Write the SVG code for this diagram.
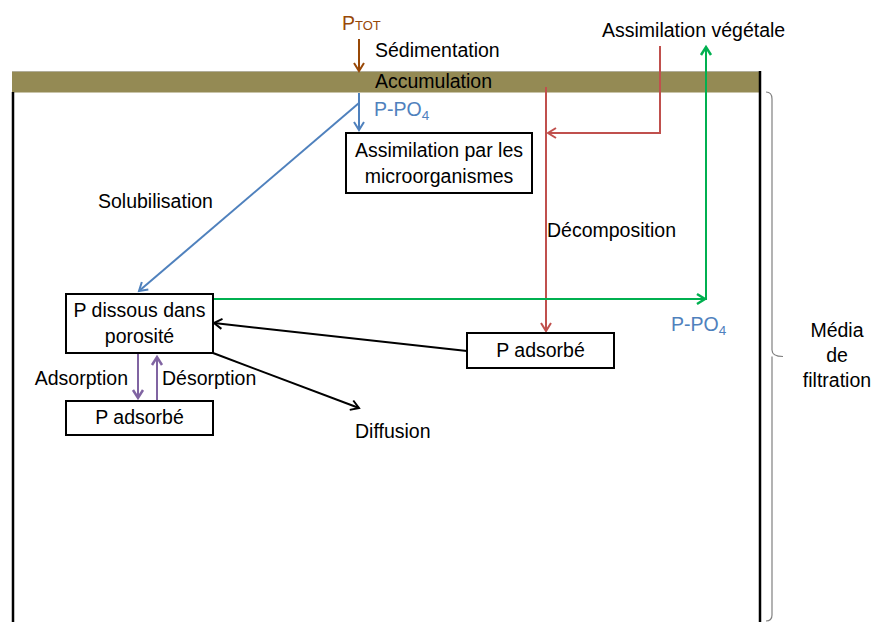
<svg xmlns="http://www.w3.org/2000/svg" width="877" height="622" viewBox="0 0 877 622">
<defs>
<style>
text{font-family:"Liberation Sans",Arial,sans-serif;font-size:19.5px;fill:#000}
.c{text-anchor:middle}
.blue{fill:#4F81BD}
.box{fill:#fff;stroke:#000;stroke-width:2}
.ln{fill:none;stroke-width:2}
</style>
<marker id="ab" markerUnits="userSpaceOnUse" markerWidth="14" markerHeight="14" refX="11" refY="7" orient="auto"><path d="M3,2 L11,7 L3,12" fill="none" stroke="#000" stroke-width="2"/></marker>
<marker id="ablue" markerUnits="userSpaceOnUse" markerWidth="14" markerHeight="14" refX="11" refY="7" orient="auto"><path d="M3,2 L11,7 L3,12" fill="none" stroke="#4F81BD" stroke-width="2"/></marker>
<marker id="ared" markerUnits="userSpaceOnUse" markerWidth="14" markerHeight="14" refX="11" refY="7" orient="auto"><path d="M3,2 L11,7 L3,12" fill="none" stroke="#C0504D" stroke-width="2"/></marker>
<marker id="agreen" markerUnits="userSpaceOnUse" markerWidth="14" markerHeight="14" refX="11" refY="7" orient="auto"><path d="M3,2 L11,7 L3,12" fill="none" stroke="#00B050" stroke-width="2.5"/></marker>
<marker id="apurple" markerUnits="userSpaceOnUse" markerWidth="14" markerHeight="14" refX="11" refY="7" orient="auto"><path d="M3,2 L11,7 L3,12" fill="none" stroke="#8064A2" stroke-width="2.5"/></marker>
<marker id="abrown" markerUnits="userSpaceOnUse" markerWidth="14" markerHeight="14" refX="11" refY="7" orient="auto"><path d="M3,2 L11,7 L3,12" fill="none" stroke="#984807" stroke-width="2"/></marker>
</defs>

<g id="media">
<line x1="12" y1="71.5" x2="760" y2="71.5" stroke="#b0ad9a" stroke-width="1"/>
<rect x="12" y="72" width="748" height="20.5" fill="#948A54"/>
<line x1="13" y1="92" x2="13" y2="622" stroke="#000" stroke-width="2.5"/>
<line x1="760" y1="71" x2="760" y2="622" stroke="#000" stroke-width="2.5"/>
<path d="M766,92 Q772,92 772,99 V350 Q772,356.5 783,356.5 M772,356.5 Q772,363 772,370 V615 Q772,621 766,621" fill="none" stroke="#808080" stroke-width="1.2"/>
<text class="c" x="837" y="337">Média</text>
<text class="c" x="837" y="362">de</text>
<text class="c" x="837" y="387">filtration</text>
</g>

<g id="labels">
<text x="342" y="30" style="fill:#984807">P<tspan style="font-size:13px">TOT</tspan></text>
<text x="375" y="57">Sédimentation</text>
<text x="375" y="88">Accumulation</text>
<text x="374" y="116" class="blue">P-PO<tspan dy="4" style="font-size:13.5px">4</tspan></text>
<text x="602" y="37">Assimilation végétale</text>
<text x="98" y="208">Solubilisation</text>
<text x="547" y="237">Décomposition</text>
<text x="671" y="331" class="blue">P-PO<tspan dy="4" style="font-size:13.5px">4</tspan></text>
<text x="128" y="385" text-anchor="end">Adsorption</text>
<text x="162" y="385">Désorption</text>
<text x="355" y="438">Diffusion</text>
</g>

<g id="connectors">
<line class="ln" x1="359" y1="39" x2="359" y2="71" stroke="#984807" marker-end="url(#abrown)"/>
<line class="ln" x1="359" y1="93" x2="359" y2="130" stroke="#4F81BD" marker-end="url(#ablue)"/>
<line class="ln" x1="359" y1="103" x2="139" y2="291" stroke="#4F81BD" marker-end="url(#ablue)"/>
<polyline class="ln" points="660,46 660,133 548,133" stroke="#C0504D" marker-end="url(#ared)"/>
<line class="ln" x1="546" y1="87" x2="546" y2="331" stroke="#C0504D" marker-end="url(#ared)"/>
<line class="ln" x1="213" y1="299" x2="705" y2="299" stroke="#00B050" stroke-width="2.5" marker-end="url(#agreen)"/>
<line class="ln" x1="706" y1="300" x2="706" y2="47" stroke="#00B050" stroke-width="2.5" marker-end="url(#agreen)"/>
<line class="ln" x1="467" y1="351" x2="214" y2="323" stroke="#000" marker-end="url(#ab)"/>
<line class="ln" x1="213" y1="353" x2="359" y2="408" stroke="#000" marker-end="url(#ab)"/>
<line class="ln" x1="138" y1="354" x2="138" y2="398" stroke="#8064A2" stroke-width="2.5" marker-end="url(#apurple)"/>
<line class="ln" x1="157" y1="400" x2="157" y2="357" stroke="#8064A2" stroke-width="2.5" marker-end="url(#apurple)"/>
</g>

<g id="n-micro">
<rect class="box" x="346" y="133" width="186" height="60"/>
<text class="c" x="439" y="157">Assimilation par les</text>
<text class="c" x="439" y="183">microorganismes</text>
</g>
<g id="n-dissous">
<rect class="box" x="66" y="294" width="147" height="59"/>
<text class="c" x="139.5" y="317">P dissous dans</text>
<text class="c" x="139.5" y="343">porosité</text>
</g>
<g id="n-adsorbe-left">
<rect class="box" x="66" y="401" width="147" height="34"/>
<text class="c" x="139.5" y="424">P adsorbé</text>
</g>
<g id="n-adsorbe-right">
<rect class="box" x="467" y="333" width="147" height="35"/>
<text class="c" x="540.5" y="357">P adsorbé</text>
</g>
</svg>
